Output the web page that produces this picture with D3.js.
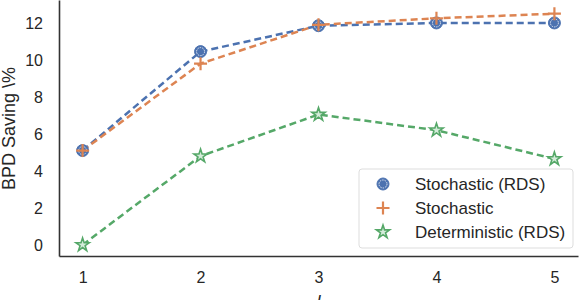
<!DOCTYPE html>
<html>
<head>
<meta charset="utf-8">
<script src="https://cdn.jsdelivr.net/npm/d3@7"></script>
<style>
  body { margin: 0; background: #fff; }
  text { font-family: "Liberation Sans", Arial, sans-serif; fill: #262626; }
</style>
</head>
<body>
<svg width="584" height="300"></svg>
<script>
var levels = [1, 2, 3, 4, 5];
var stochRds = [5.1, 10.45, 11.85, 12.0, 12.0];
var stoch = [5.1, 9.8, 11.9, 12.25, 12.5];
var detRds = [0.0, 4.8, 7.05, 6.2, 4.65];
var yTicks = [0, 2, 4, 6, 8, 10, 12];
var names = ["Stochastic (RDS)", "Stochastic", "Deterministic (RDS)"];
var colors = ["#4C72B0", "#DD8452", "#55A868"];

var svg = d3.select("svg"),
  margin = {top: 0, right: 6, bottom: 44, left: 59},
  width = 584 - margin.left - margin.right,
  height = 300 - margin.top - margin.bottom,
  g = svg.append("g").attr("transform", "translate(" + margin.left + "," + margin.top + ")");

var x = d3.scaleLinear().domain([0.8, 5.2]).range([0, width]);
var y = d3.scaleLinear().domain([-0.6, 13.24]).range([height, 0]);

var series = [stochRds, stoch, detRds].map(function(vals, i) {
  return {name: names[i], color: colors[i], values: vals.map(function(v, j) { return {l: levels[j], v: v}; })};
});

// axes
var xAxis = g.append("g")
  .attr("transform", "translate(0," + height + ")")
  .call(d3.axisBottom(x).tickValues(levels).tickSize(0).tickPadding(16).tickFormat(d3.format("d")));
var yAxis = g.append("g")
  .call(d3.axisLeft(y).tickValues(yTicks).tickSize(0).tickPadding(16));
[xAxis, yAxis].forEach(function(a) {
  a.select(".domain").attr("stroke", "#333").attr("stroke-width", 1.6);
  a.selectAll("text").style("font-size", "16px").attr("fill", "#262626");
});

var line = d3.line()
  .x(function(d) { return x(d.l); })
  .y(function(d) { return y(d.v); });

var sg = g.selectAll(".series").data(series).enter().append("g");
sg.append("path")
  .attr("fill", "none")
  .attr("stroke", function(d) { return d.color; })
  .attr("stroke-width", 2.5)
  .attr("stroke-dasharray", "7,4")
  .attr("d", function(d) { return line(d.values); });

function drawMarker(sel, i, color) {
  if (i === 0) {
    sel.append("circle").attr("r", 6).attr("fill", color).attr("stroke", color).attr("stroke-width", 1);
    sel.append("circle").attr("r", 4).attr("fill", "none").attr("stroke", "#fff")
      .attr("stroke-width", 0.8).attr("stroke-dasharray", "1.5,1");
  } else if (i === 1) {
    sel.append("path").attr("d", "M-6.5,0H6.5M0,-6.5V6.5")
      .attr("stroke", color).attr("stroke-width", 2.2);
  } else {
    sel.append("path").attr("d", d3.symbol().type(d3.symbolStar).size(55)())
      .attr("fill", "#d4ecda").attr("stroke", color).attr("stroke-width", 1.6);
  }
}

series.forEach(function(s, i) {
  s.values.forEach(function(d) {
    var m = g.append("g").attr("transform", "translate(" + x(d.l) + "," + y(d.v) + ")");
    drawMarker(m, i, s.color);
  });
});

// axis titles
g.append("text")
  .attr("transform", "rotate(-90)")
  .attr("x", -128.5)
  .attr("y", -44)
  .attr("text-anchor", "middle")
  .style("font-size", "18px")
  .text("BPD Saving \\%");
g.append("text")
  .attr("x", x(3))
  .attr("y", height + 52)
  .attr("text-anchor", "middle")
  .style("font-size", "18px")
  .style("font-style", "italic")
  .text("l");

// legend
var lg = svg.append("g").attr("transform", "translate(359,169)");
lg.append("rect").attr("width", 214).attr("height", 79).attr("rx", 3)
  .attr("fill", "#fff").attr("fill-opacity", 0.85).attr("stroke", "#ddd").attr("stroke-width", 1);
series.forEach(function(s, i) {
  var row = lg.append("g").attr("transform", "translate(0," + (15 + i * 24) + ")");
  drawMarker(row.append("g").attr("transform", "translate(24,0)"), i, s.color);
  row.append("text").attr("x", 56).attr("dy", "0.35em").style("font-size", "17px").text(s.name);
});
</script>
</body>
</html>
